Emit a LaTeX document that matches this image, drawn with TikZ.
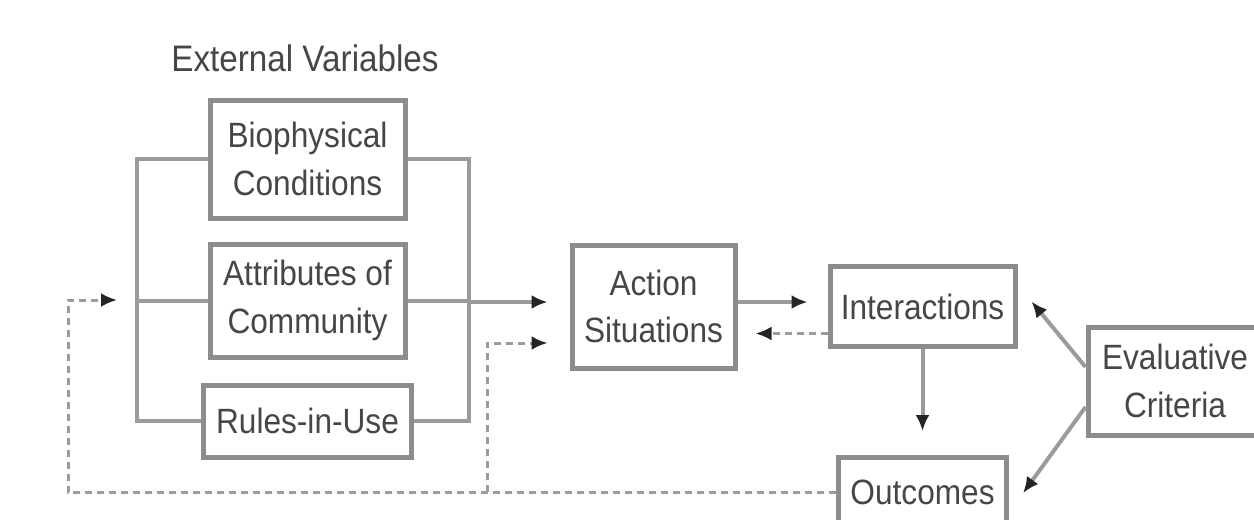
\documentclass[tikz,border=0pt]{standalone}
\usepackage{fontspec}
\setmainfont{Liberation Sans}[FakeStretch=0.9]
\usepackage{tikz}
\usetikzlibrary{arrows.meta,positioning}
\definecolor{linegray}{RGB}{155,155,155}
\definecolor{boxgray}{RGB}{140,140,140}
\definecolor{textgray}{RGB}{70,70,70}
\definecolor{tipgray}{RGB}{35,35,40}
\newcommand{\boxfont}{\fontsize{10}{13.5}\selectfont}
\newcommand{\titlefont}{\fontsize{10.5}{13}\selectfont}
\begin{document}
\begin{tikzpicture}[x=1mm, y=1mm,
      box/.style={draw=boxgray, line width=0.5mm, fill=white, align=center, font=\boxfont, text=textgray, inner sep=0pt},
      ln/.style={draw=linegray, line width=0.4mm},
      arr/.style={ln, -{Latex[length=1.6mm, width=1.4mm, color=tipgray]}, shorten >=2mm},
      fb/.style={arr, line width=0.3mm, dash pattern=on 0.7mm off 0.5mm}]
    \useasboundingbox (0,0) rectangle (125.4,-51.9);
    \node[font=\titlefont, text=textgray] (title) at (30.5,-5.8) {External Variables};
    \node[box, minimum width=19.5mm, minimum height=11.8mm] (bio) at (30.75,-15.9) {Biophysical\\Conditions};
    \node[box, minimum width=19.5mm, minimum height=11.3mm, below=2.1mm of bio] (attr) {Attributes of\\Community};
    \node[box, minimum width=20.8mm, minimum height=7.2mm, below=2.3mm of attr] (rules) {Rules-in-Use};
    \node[box, minimum width=16.3mm, minimum height=12.3mm, right=16.2mm of attr, yshift=-0.6mm] (act) {Action\\Situations};
    \node[box, minimum width=18.5mm, minimum height=8mm, right=9mm of act] (inter) {Interactions};
    \node[box, minimum width=16.8mm, minimum height=7mm, below=10.6mm of inter] (out) {Outcomes};
    \node[box, minimum width=17.4mm, minimum height=10.8mm] (eval) at (117.5,-38.1) {Evaluative\\Criteria};
    \coordinate (lmid) at (13.7,-30.0);
    \coordinate (rmid) at (46.9,-30.2);
    \coordinate (fbl) at (6.8,-49.0);
    \coordinate (fbm) at (48.7,-49.2);
    % bracket round the external variables
    \draw[ln] (bio.west) -| (lmid) |- (rules.west);
    \draw[ln] (attr.west) -- (attr.west -| lmid);
    \draw[ln] (bio.east) -| (rmid) |- (rules.east);
    \draw[ln] (attr.east) -- (attr.east -| rmid);
    \draw[arr, shorten >=2.2mm] (rmid) -- (rmid -| act.west);
    \draw[arr] (act.east |- rmid) -- (inter.west |- rmid);
    \draw[fb, shorten >=1.8mm] ([yshift=-2.7mm]inter.west) -- ([yshift=-2.7mm]inter.west -| act.east);
    \draw[arr, shorten >=2.4mm] (inter.south) -- (inter.south |- out.north);
    \draw[arr, shorten >=2.2mm] ([yshift=1.4mm]eval.west) -- ([yshift=2.2mm]inter.east);
    \draw[arr, shorten >=2.4mm] ([yshift=-2.6mm]eval.west) -- ([yshift=-2mm]out.east);
    % feedback
    \draw[fb] (out.west) -- (out.west -| fbl) |- (lmid);
    \draw[fb, shorten >=2.2mm] (fbm) |- ([yshift=-3.65mm]act.west);
  \end{tikzpicture}
\end{document}
